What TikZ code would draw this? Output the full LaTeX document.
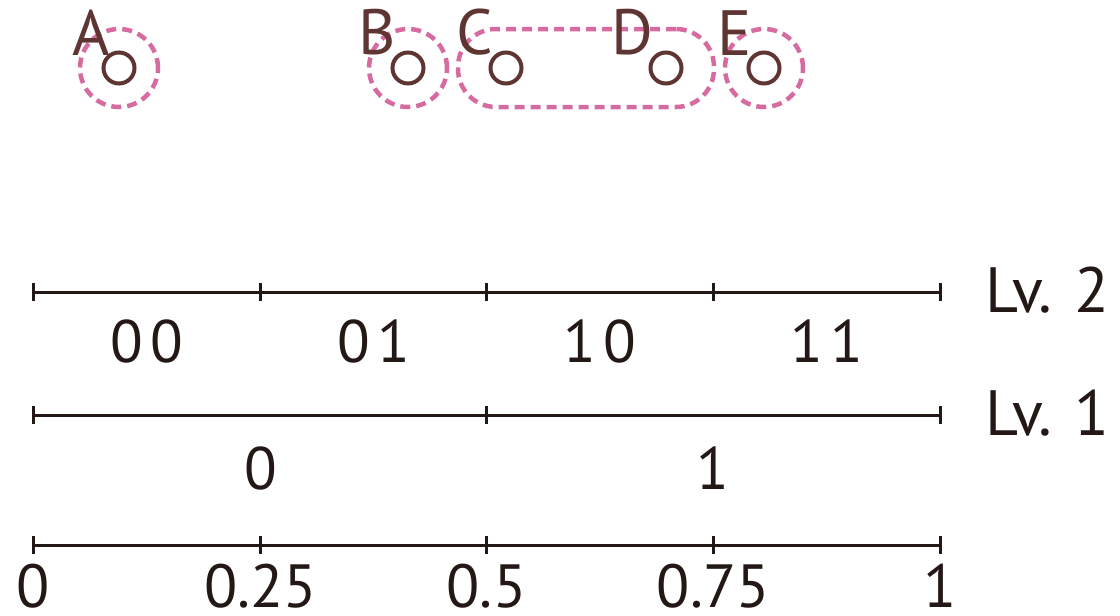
\documentclass[tikz,border=0pt]{standalone}
\usepackage{fontspec}
\setmainfont{PT Sans}
\newfontfamily\bitfont[LetterSpace=12]{PT Sans}
\usetikzlibrary{positioning,fit,backgrounds}
\definecolor{ptbrown}{HTML}{5E3532}
\definecolor{grppink}{HTML}{D66BA0}
\definecolor{axisblack}{HTML}{231815}
\tikzset{
  point/.style={circle, draw=ptbrown, line width=4pt, inner sep=0pt, minimum size=31pt},
  ptlabel/.style={text=ptbrown, inner sep=0pt, label distance=0pt, font=\fontsize{64}{64}\selectfont},
  group/.style={draw=grppink, line width=4.5pt, dash pattern=on 10pt off 6pt, inner sep=0pt},
  axis/.style={draw=axisblack, line width=3pt},
  bitlabel/.style={text=axisblack, inner sep=0pt, anchor=base, font=\bitfont\fontsize{60}{60}\selectfont},
  scalelabel/.style={text=axisblack, inner sep=0pt, anchor=base, font=\fontsize{61}{61}\selectfont},
  lvlabel/.style={text=axisblack, inner sep=0pt, anchor=base west, font=\fontsize{64}{64}\selectfont}
}
\begin{document}
\begin{tikzpicture}[x=1pt, y=-1pt]
  \useasboundingbox (0,0) rectangle (1120,616);

  % points
  \node[point, label={[ptlabel, xshift=4pt]above left:A}] (A) at (119,68) {};
  \node[point, label={[ptlabel]above left:B}] (B) at (408,68) {};
  \node[point, label={[ptlabel]above left:C}] (C) at (506,68) {};
  \node[point, label={[ptlabel]above left:D}] (D) at (666,68) {};
  \node[point, label={[ptlabel]above left:E}] (E) at (764,68) {};

  % groups
  \begin{scope}[on background layer]
    \node[group, circle, minimum size=78pt] (gA) at (A) {};
    \node[group, circle, minimum size=78pt] (gB) at (B) {};
    \node[group, rounded corners=38pt, inner xsep=30.5pt, inner ysep=21.5pt, fit=(C)(D)] (gCD) {};
    \node[group, circle, minimum size=78pt] (gE) at (E) {};
  \end{scope}

  % Lv. 2
  \foreach \x [count=\i from 0] in {33,260.75,486.5,713.25,940}
    \coordinate (v2-\i) at (\x,292);
  \draw[axis] (v2-0) -- (v2-4);
  \foreach \i in {0,...,4}
    \draw[axis] ([yshift=9pt]v2-\i) -- ([yshift=-9pt]v2-\i);
  \foreach \b/\x in {00/146.9,01/373.6,10/599.9,11/826.6}
    \node[bitlabel] (c\b) at (\x,362) {\b};
  \node[lvlabel] (lv2) at (985,312) {Lv. 2};

  % Lv. 1
  \foreach \x [count=\i from 0] in {33,260.75,486.5,713.25,940}
    \coordinate (v1-\i) at (\x,415);
  \draw[axis] (v1-0) -- (v1-4);
  \foreach \i in {0,2,4}
    \draw[axis] ([yshift=9pt]v1-\i) -- ([yshift=-9pt]v1-\i);
  \node[bitlabel] (c0) at (v1-1 |- 0,489) {0};
  \node[bitlabel] (c1) at (v1-3 |- 0,489) {1};
  \node[lvlabel] (lv1) at (985,435) {Lv. 1};

  % scale
  \foreach \x [count=\i from 0] in {33,260.75,486.5,713.25,940}
    \coordinate (s\i) at (\x,545);
  \draw[axis] (s0) -- (s4);
  \foreach \i/\t in {0/0,1/0.25,2/0.5,3/0.75,4/1} {
    \draw[axis] ([yshift=9pt]s\i) -- ([yshift=-9pt]s\i);
    \node[scalelabel] (t\i) at (s\i |- 0,607) {\t};
  }
\end{tikzpicture}
\end{document}
